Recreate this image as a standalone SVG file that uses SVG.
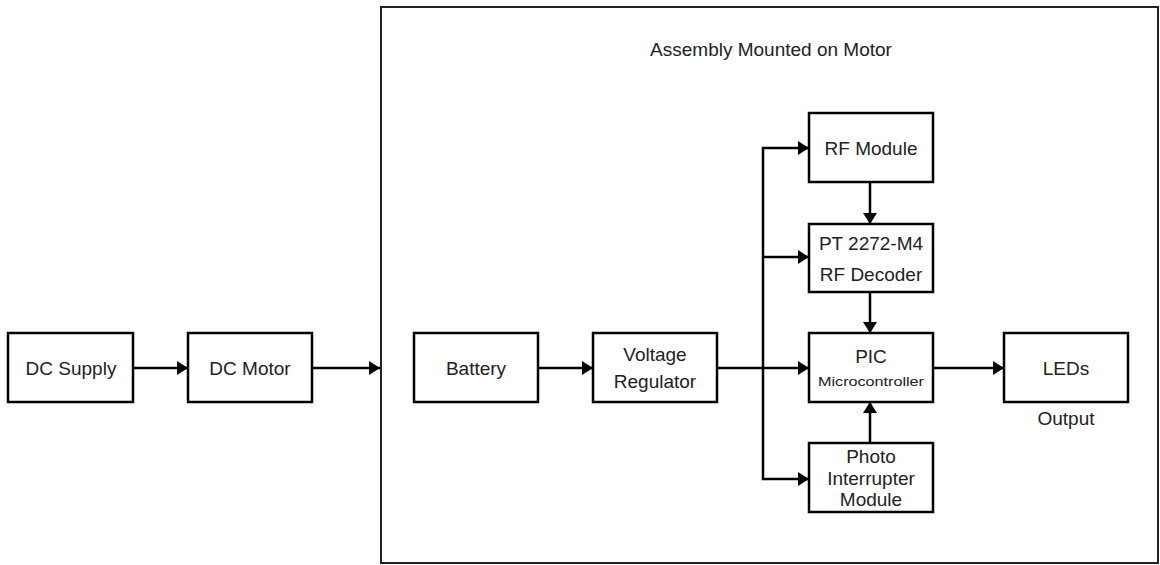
<svg xmlns="http://www.w3.org/2000/svg" width="1160" height="565" viewBox="0 0 1160 565">
<style>
.box{fill:#fff;stroke:#000;stroke-width:2.5}
.outer{fill:none;stroke:#222;stroke-width:2}
.lbl{font-family:"Liberation Sans",Arial,sans-serif;font-size:19px;fill:#222;text-anchor:middle}
.small{font-size:13px}
.conn{fill:none;stroke:#000;stroke-width:2.5}
</style>
<defs>
<marker id="arr" markerUnits="userSpaceOnUse" markerWidth="11" markerHeight="14" refX="11" refY="7" orient="auto">
<path d="M0,0 L11,7 L0,14 Z" fill="#000"/>
</marker>
</defs>
<rect width="1160" height="565" fill="#fff"/>
<g id="assembly">
<rect class="outer" x="381" y="7" width="777" height="556"/>
<text class="lbl" x="771" y="56">Assembly Mounted on Motor</text>
</g>
<g id="connectors">
<path class="conn" d="M133,368 H188" marker-end="url(#arr)"/>
<path class="conn" d="M312,368 H380" marker-end="url(#arr)"/>
<path class="conn" d="M538,368 H593" marker-end="url(#arr)"/>
<path class="conn" d="M717,368 H809" marker-end="url(#arr)"/>
<path class="conn" d="M763,368 V148 H809" marker-end="url(#arr)"/>
<path class="conn" d="M763,257 H809" marker-end="url(#arr)"/>
<path class="conn" d="M763,368 V479 H809" marker-end="url(#arr)"/>
<path class="conn" d="M870,182 V224" marker-end="url(#arr)"/>
<path class="conn" d="M870,292 V333" marker-end="url(#arr)"/>
<path class="conn" d="M870,443 V402" marker-end="url(#arr)"/>
<path class="conn" d="M933,368 H1004" marker-end="url(#arr)"/>
</g>
<g id="dc-supply">
<rect class="box" x="8" y="333" width="125" height="69"/>
<text class="lbl" x="71" y="375">DC Supply</text>
</g>
<g id="dc-motor">
<rect class="box" x="188" y="333" width="124" height="69"/>
<text class="lbl" x="250" y="375">DC Motor</text>
</g>
<g id="battery">
<rect class="box" x="414" y="333" width="124" height="69"/>
<text class="lbl" x="476" y="375">Battery</text>
</g>
<g id="voltage-regulator">
<rect class="box" x="593" y="333" width="124" height="69"/>
<text class="lbl" x="655" y="361">Voltage</text>
<text class="lbl" x="655" y="388">Regulator</text>
</g>
<g id="rf-module">
<rect class="box" x="809" y="113" width="124" height="69"/>
<text class="lbl" x="871" y="155">RF Module</text>
</g>
<g id="rf-decoder">
<rect class="box" x="809" y="224" width="124" height="68"/>
<text class="lbl" x="871" y="250">PT 2272-M4</text>
<text class="lbl" x="871" y="281">RF Decoder</text>
</g>
<g id="pic">
<rect class="box" x="809" y="333" width="124" height="69"/>
<text class="lbl" x="871" y="363">PIC</text>
<text class="lbl small" x="871" y="386" textLength="106" lengthAdjust="spacingAndGlyphs">Microcontroller</text>
</g>
<g id="photo-interrupter">
<rect class="box" x="809" y="443" width="124" height="69"/>
<text class="lbl" x="871" y="463">Photo</text>
<text class="lbl" x="871" y="485">Interrupter</text>
<text class="lbl" x="871" y="506">Module</text>
</g>
<g id="leds">
<rect class="box" x="1004" y="333" width="124" height="69"/>
<text class="lbl" x="1066" y="375">LEDs</text>
<text class="lbl" x="1066" y="425">Output</text>
</g>
</svg>
